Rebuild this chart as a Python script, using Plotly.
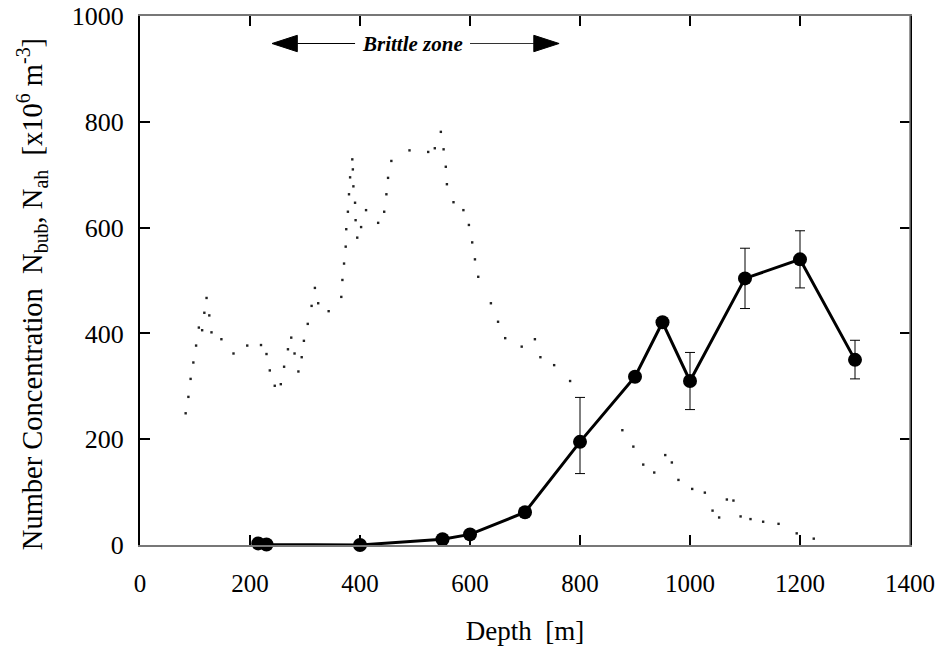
import plotly.graph_objects as go

# Bubble number concentration (solid series, with error bars)
bub_depth = [215, 230, 400, 550, 600, 700, 800, 900, 950, 1000, 1100, 1200, 1300]
bub_value = [3, 1, 0, 11, 20, 62, 195, 318, 421, 310, 504, 540, 350]
bub_err_plus = [0, 0, 0, 0, 0, 0, 84, 0, 0, 54, 57, 54, 37]
bub_err_minus = [0, 0, 0, 0, 0, 0, 60, 0, 0, 54, 57, 54, 36]

# Air hydrate number concentration (dotted series)
ah_depth = [83, 88, 92, 97, 102, 107, 113, 117, 121, 126, 130, 148, 170, 195, 220, 230,
            236, 245, 256, 262, 269, 275, 281, 288, 294, 298, 305, 312, 318, 324, 343, 366,
            368, 371, 374, 375, 378, 380, 382, 386, 387, 388, 391, 392, 395, 402, 411, 433,
            444, 448, 451, 457, 490, 524, 536, 547, 552, 556, 558, 570, 588, 598, 604, 609,
            615, 638, 651, 664, 694, 718, 728, 753, 782, 877, 897, 915, 935, 955, 967, 979,
            1004, 1027, 1041, 1053, 1067, 1079, 1092, 1110, 1133, 1161, 1194, 1225]
ah_value = [249, 280, 314, 345, 377, 411, 406, 439, 467, 434, 402, 389, 362, 377, 378, 361,
            330, 301, 304, 337, 370, 392, 362, 328, 355, 386, 418, 452, 486, 457, 442, 469,
            501, 532, 564, 597, 630, 663, 695, 729, 710, 678, 647, 614, 581, 601, 633, 609,
            630, 663, 694, 726, 746, 743, 750, 781, 748, 715, 682, 648, 633, 605, 572, 540,
            507, 457, 422, 391, 375, 389, 355, 340, 310, 217, 186, 152, 137, 170, 156, 123,
            106, 99, 65, 52, 86, 84, 54, 49, 44, 40, 22, 12]

x_ticks = [0, 200, 400, 600, 800, 1000, 1200, 1400]
y_ticks = [0, 200, 400, 600, 800, 1000]

brittle_start, brittle_end = 240, 762
brittle_label_y = 948
brittle_text_left, brittle_text_right = 391, 600

FONT = "Liberation Serif"

fig = go.Figure()

fig.add_trace(go.Scatter(
    x=ah_depth, y=ah_value, mode="markers",
    marker=dict(symbol="square", size=2.4, color="#222", line=dict(width=0)),
    showlegend=False, hoverinfo="skip"))

fig.add_trace(go.Scatter(
    x=bub_depth, y=bub_value, mode="lines+markers",
    line=dict(color="black", width=3),
    marker=dict(symbol="circle", size=14, color="black"),
    error_y=dict(type="data", array=bub_err_plus, arrayminus=bub_err_minus,
                 color="black", thickness=1, width=5),
    cliponaxis=False, showlegend=False))

axis_common = dict(showgrid=False, zeroline=False, ticks="inside", ticklen=10,
                   tickwidth=1.5, tickcolor="black", showline=True, mirror="ticks")

fig.update_xaxes(range=[0, 1400], tickvals=x_ticks, linecolor="#777", linewidth=1.5,
                 ticklabelstandoff=15,
                 tickfont=dict(family=FONT, size=25, color="black"),
                 title=dict(text="Depth  [m]", font=dict(family=FONT, size=27, color="black"),
                            standoff=25),
                 automargin=False, **axis_common)
fig.update_yaxes(range=[0, 1000], tickvals=y_ticks, linecolor="black", linewidth=2,
                 ticklabelstandoff=9, automargin=False,
                 tickfont=dict(family=FONT, size=26, color="black"), **axis_common)

# right frame edge (gray)
fig.add_shape(type="line", xref="paper", yref="paper", x0=1, x1=1, y0=0, y1=1,
              line=dict(color="#777", width=1.5), layer="above")

# y title
fig.add_annotation(text="Number Concentration  N<sub>bub</sub>, N<sub>ah</sub>  [x10<sup>6</sup> m<sup>-3</sup>]",
                   xref="paper", yref="paper", x=-0.141, y=0.475, textangle=-90,
                   xanchor="center", yanchor="middle",
                   showarrow=False, font=dict(family=FONT, size=28.5, color="black"))

# Brittle zone label and arrows
fig.add_annotation(text="<i><b>Brittle zone</b></i>", x=(brittle_text_left + brittle_text_right) / 2,
                   y=brittle_label_y, showarrow=False,
                   font=dict(family=FONT, size=21, color="black"))
head_len = 46
head_half = 15.5
fig.add_shape(type="line", x0=brittle_start + head_len, x1=brittle_text_left,
              y0=brittle_label_y, y1=brittle_label_y, line=dict(color="black", width=1.2))
fig.add_shape(type="line", x0=brittle_text_right, x1=brittle_end - head_len,
              y0=brittle_label_y, y1=brittle_label_y, line=dict(color="#333", width=1))
fig.add_shape(type="path",
              path=f"M {brittle_start},{brittle_label_y} L {brittle_start + head_len},{brittle_label_y + head_half} "
                   f"L {brittle_start + head_len},{brittle_label_y - head_half} Z",
              fillcolor="black", line=dict(color="black", width=1))
fig.add_shape(type="path",
              path=f"M {brittle_end},{brittle_label_y} L {brittle_end - head_len},{brittle_label_y + head_half} "
                   f"L {brittle_end - head_len},{brittle_label_y - head_half} Z",
              fillcolor="black", line=dict(color="black", width=1))

fig.update_layout(width=941, height=648, autosize=False,
                  margin=dict(l=140, r=31, t=16, b=103),
                  plot_bgcolor="white", paper_bgcolor="white")

fig.write_html("out.html", config={"displayModeBar": False},
               post_script="document.body.style.margin='0';document.body.style.overflow='hidden';")
